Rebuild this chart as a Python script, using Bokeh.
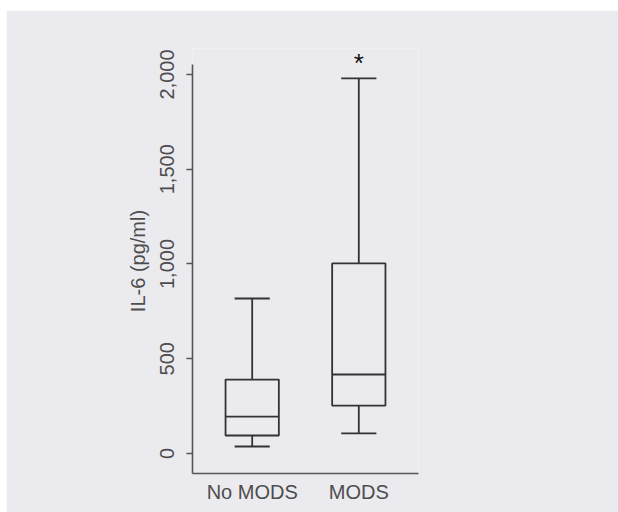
from bokeh.plotting import figure
from bokeh.layouts import column, row
from bokeh.models import (ColumnDataSource, FactorRange, Range1d, FixedTicker,
                          NumeralTickFormatter, Spacer)
from bokeh.transform import dodge
from bokeh.core.properties import value
from bokeh.embed import file_html
from bokeh.resources import INLINE

# ---- data ----
groups = ["No MODS", "MODS"]
lower_whisker = [37, 106]
q1 = [95, 253]
median = [195, 417]
q3 = [390, 1003]
upper_whisker = [818, 1979]
significance = ["", "*"]
y_ticks = [0, 500, 1000, 1500, 2000]
y_label = "IL-6 (pg/ml)"
y_axis_span = (-105.5, 2053)

BG = "#ebeaef"
LINE = "#333333"
TEXT = "#4d4d4d"
FONT = "Liberation Sans"

src = ColumnDataSource(dict(
    g=groups, lo=lower_whisker, q1=q1, med=median, q3=q3, hi=upper_whisker, sig=significance,
))

p = figure(
    width=612, height=502,
    x_range=FactorRange(*groups, range_padding=0.06, range_padding_units="absolute"),
    y_range=Range1d(y_axis_span[0], 2137),
    output_backend="svg", toolbar_location=None,
    min_border_left=186, min_border_right=200, min_border_top=38, min_border_bottom=39,
)
p.background_fill_color = BG
p.border_fill_color = BG
p.outline_line_color = None
p.xgrid.visible = False
p.ygrid.visible = False

xr = p.x_range
box_l = dodge("g", -0.25, range=xr)
box_r = dodge("g", 0.25, range=xr)
cap_l = dodge("g", -0.165, range=xr)
cap_r = dodge("g", 0.165, range=xr)

lw = 1.8
# box
p.vbar(x="g", width=0.5, bottom="q1", top="q3", source=src,
       fill_color=None, line_color=LINE, line_width=lw)
# median
p.segment(x0=box_l, x1=box_r, y0="med", y1="med", source=src, line_color=LINE, line_width=lw)
# whiskers
p.segment(x0="g", x1="g", y0="q3", y1="hi", source=src, line_color=LINE, line_width=lw)
p.segment(x0="g", x1="g", y0="lo", y1="q1", source=src, line_color=LINE, line_width=lw)
# caps
p.segment(x0=cap_l, x1=cap_r, y0="hi", y1="hi", source=src, line_color=LINE, line_width=lw)
p.segment(x0=cap_l, x1=cap_r, y0="lo", y1="lo", source=src, line_color=LINE, line_width=lw)
# significance marker
p.text(x="g", y="hi", text="sig", source=src, y_offset=-15,
       text_align="center", text_baseline="alphabetic",
       text_font=value(FONT), text_font_size="26px", text_color="#111111")

# axes
ya = p.yaxis[0]
ya.bounds = y_axis_span
ya.ticker = FixedTicker(ticks=y_ticks)
ya.formatter = NumeralTickFormatter(format="0,0")
ya.minor_tick_line_color = None
ya.major_tick_out = 6
ya.major_tick_in = 0
ya.major_label_orientation = "vertical"
ya.major_label_standoff = 12
ya.axis_label = y_label
ya.axis_label_standoff = 9
ya.axis_label_text_font = FONT
ya.axis_label_text_font_size = "20px"
ya.axis_label_text_font_style = "normal"
ya.axis_label_text_color = TEXT
ya.major_label_text_font = FONT
ya.major_label_text_font_size = "20px"
ya.major_label_text_color = TEXT
ya.axis_line_color = "#555555"
ya.axis_line_width = 1.6
ya.major_tick_line_color = "#555555"
ya.major_tick_line_width = 1.4

xa = p.xaxis[0]
xa.major_tick_out = 0
xa.major_tick_in = 0
xa.minor_tick_line_color = None
xa.major_label_standoff = 7
xa.major_label_text_font = FONT
xa.major_label_text_font_size = "20px"
xa.major_label_text_color = TEXT
xa.axis_line_color = "#555555"
xa.axis_line_width = 1.6

layout = column(Spacer(height=10), row(Spacer(width=6), p))

open("out.html", "w").write(file_html(layout, INLINE))
